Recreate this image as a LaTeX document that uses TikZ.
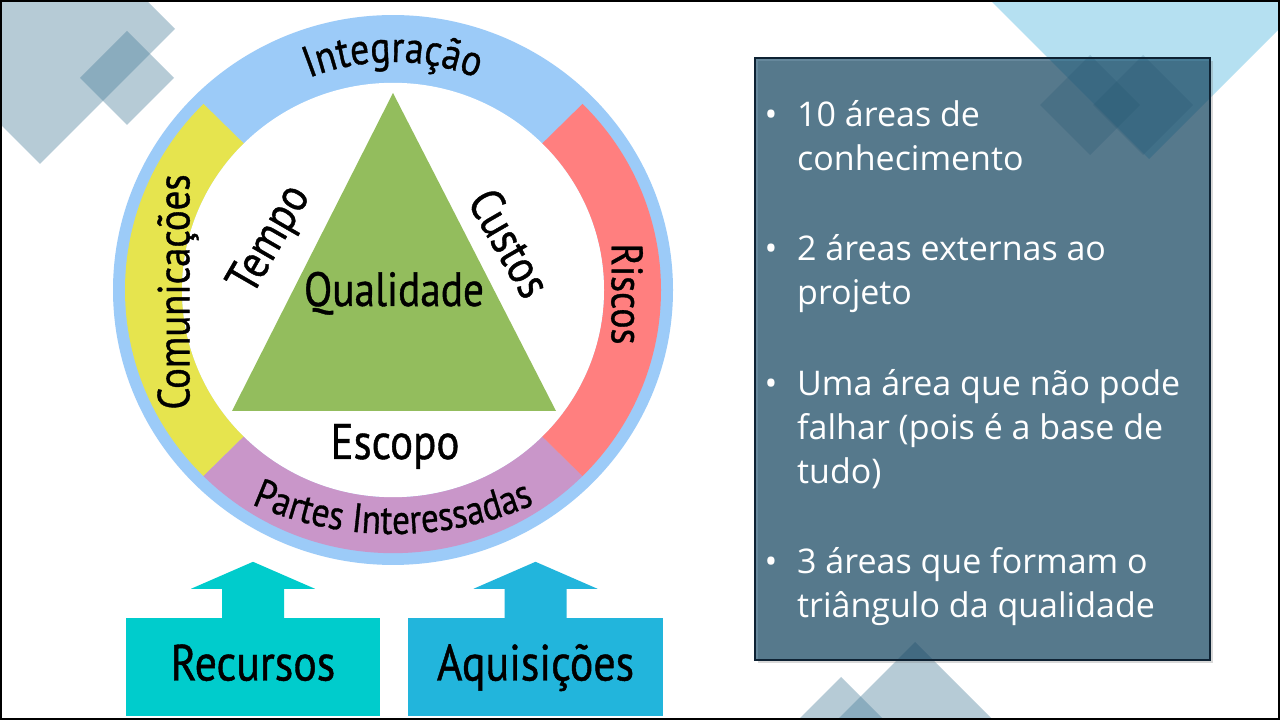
\documentclass[tikz,border=0pt]{standalone}
\usepackage{fontspec}
\usetikzlibrary{decorations.text,shadows}
\newfontfamily\ringfont[FakeStretch=0.86,FakeBold=0.8]{PT Sans}
\newfontfamily\panelfont{Open Sans}
\definecolor{ringblue}{HTML}{9CCBF8}
\definecolor{ringyellow}{HTML}{E6E44E}
\definecolor{ringred}{HTML}{FF7F7F}
\definecolor{ringpurple}{HTML}{C996C9}
\definecolor{trigreen}{HTML}{93BD5D}
\definecolor{decoblue}{HTML}{4A7F9A}
\definecolor{skyblue}{HTML}{B5E0F1}
\definecolor{panelfill}{HTML}{003A5A}
\definecolor{panelline}{HTML}{0E2233}
\definecolor{recteal}{HTML}{00CCCC}
\definecolor{aqblue}{HTML}{22B5DC}

\begin{document}
\begin{tikzpicture}[x=1pt,y=1pt,
  deco/.style={fill=decoblue,fill opacity=0.4},
  areaname/.style={font=\ringfont\fontsize{48}{56}\selectfont,inner sep=0pt},
  inbox/.style={minimum width=254pt,minimum height=98pt,inner sep=0pt,
    text height=37pt,text depth=10pt,font=\ringfont\fontsize{51}{58}\selectfont},
  item/.style={font=\panelfont\fontsize{34}{44}\selectfont,text=white,
    anchor=base west,align=left,inner sep=0pt},
  dot/.style={font=\panelfont\fontsize{34}{44}\selectfont,text=white,
    anchor=base,inner sep=0pt}]
\useasboundingbox (0,0) rectangle (1280,720);
\clip (0,0) rectangle (1280,720);
\fill[white] (0,0) rectangle (1280,720);

% background shapes
\fill[deco] (175,691) -- (40,556) -- (-95,691) -- (40,826) -- cycle;
\fill[deco] (174,642) -- (127,595) -- (80,642) -- (127,689) -- cycle;
\fill[skyblue] (1349,761) -- (1149,561) -- (949,761) -- (1149,961) -- cycle;
\fill[deco,fill opacity=0.25] (1140,615) -- (1090,565) -- (1040,615) -- (1090,665) -- cycle;
\fill[deco,fill opacity=0.25] (1193,615) -- (1143,565) -- (1093,615) -- (1143,665) -- cycle;
\fill[deco] (991,2) -- (915,78) -- (839,2) -- (915,-74) -- cycle;
\fill[deco] (882,2) -- (841,43) -- (800,2) -- (841,-39) -- cycle;

% the ring of areas
\begin{scope}[shift={(393,430)},yscale=0.982]
\fill[ringblue] (0,0) circle[radius=280];
\fill[ringyellow] (135:268) arc[start angle=135,end angle=225,radius=268]
  -- (225:211) arc[start angle=225,end angle=135,radius=211] -- cycle;
\fill[ringpurple] (225:268) arc[start angle=225,end angle=315,radius=268]
  -- (315:211) arc[start angle=315,end angle=225,radius=211] -- cycle;
\fill[ringred] (-45:268) arc[start angle=-45,end angle=45,radius=268]
  -- (45:211) arc[start angle=45,end angle=-45,radius=211] -- cycle;
\fill[white] (0,0) circle[radius=211];
\end{scope}
\fill[trigreen] (393,627) -- (232,309) -- (556,309) -- cycle;

\path[decorate,decoration={text along path,text align=center,
  text={|\ringfont\fontsize{44}{50}\selectfont|Integração}}]
  (393,430) ++(135:228) arc[start angle=135,end angle=45,radius=228];
\path[decorate,decoration={text along path,text align=center,
  text={|\ringfont\fontsize{41}{50}\selectfont|Partes Interessadas}}]
  (393,536) ++(240:350) arc[start angle=240,end angle=300,radius=350];

\node[areaname,rotate=90,font=\ringfont\fontsize{45}{52}\selectfont] (comunic) at (178,428) {Comunicações};
\node[areaname,rotate=-90,font=\ringfont\fontsize{44}{52}\selectfont] (riscos) at (627,426) {Riscos};
\node[areaname,rotate=60] (tempo) at (271,480) {Tempo};
\node[areaname,rotate=-60] (custos) at (510,477) {Custos};
\node[areaname,anchor=base] (qualid) at (394,414) {Qualidade};
\node[areaname,anchor=base,font=\ringfont\fontsize{50}{56}\selectfont] (escopo) at (395,261) {Escopo};

% external areas
\node[inbox,fill=recteal] (recursos) at (253,53) {Recursos};
\node[inbox,fill=aqblue,minimum width=255pt] (aquis) at (535.5,53) {Aquisições};
\fill[recteal,shift={(recursos.north)}] (-31,0) -- (-31,29) -- (-62,29) -- (0,56)
  -- (62,29) -- (31,29) -- (31,0) -- cycle;
\fill[aqblue,shift={(aquis.north)}] (-31,0) -- (-31,29) -- (-62,29) -- (0,56)
  -- (62,29) -- (31,29) -- (31,0) -- cycle;

% summary panel
\node[minimum width=455pt,minimum height=602pt,inner sep=0pt,
  fill=panelfill,fill opacity=0.6,draw=panelline,draw opacity=1,line width=2pt,
  drop shadow={shadow xshift=3pt,shadow yshift=-3pt,opacity=0.3}] (panel) at (982.5,361) {};
\node[dot] (d1) at (771,593) {•};
\node[item] (i1) at (797,549) {10 áreas de\\conhecimento};
\node[dot] (d2) at (771,459) {•};
\node[item] (i2) at (797,415) {2 áreas externas ao\\projeto};
\node[dot] (d3) at (771,324) {•};
\node[item] (i3) at (797,236) {Uma área que não pode\\falhar (pois é a base de\\tudo)};
\node[dot] (d4) at (771,146) {•};
\node[item] (i4) at (797,102) {3 áreas que formam o\\triângulo da qualidade};

\draw[line width=2pt] (1,1) rectangle (1279,719);
\end{tikzpicture}
\end{document}
